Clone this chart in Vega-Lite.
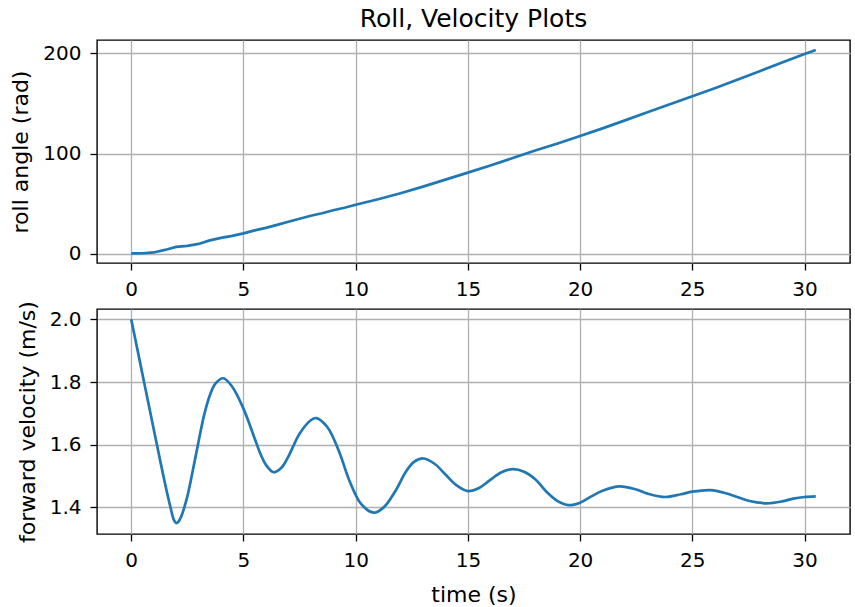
{
  "$schema": "https://vega.github.io/schema/vega-lite/v6.json",
  "background": "white",
  "padding": {"left": 9, "top": 6, "right": 2, "bottom": 0},
  "spacing": 46,
  "bounds": "flush",
  "config": {
    "font": "DejaVu Sans",
    "view": {"stroke": "black", "strokeWidth": 1.4},
    "axis": {
      "grid": true,
      "gridColor": "#b0b0b0",
      "gridWidth": 1.3,
      "domain": false,
      "tickColor": "black",
      "tickSize": 7,
      "tickWidth": 1.3,
      "labelFont": "DejaVu Sans",
      "labelFontSize": 20,
      "labelColor": "black",
      "labelPadding": 9,
      "titleFont": "DejaVu Sans",
      "titleFontSize": 22,
      "titleFontWeight": "normal",
      "titleColor": "black",
      "titlePadding": 10
    },
    "title": {"font": "DejaVu Sans", "fontSize": 25, "fontWeight": "normal", "color": "black"}
  },
  "vconcat": [
    {
      "title": {"text": "Roll, Velocity Plots", "anchor": "middle", "frame": "group", "offset": 8},
      "width": 753,
      "height": 223,
      "data": {"values": [
        {"t": 0, "roll": 0.5}, {"t": 0.5, "roll": 0.7}, {"t": 1, "roll": 1.5}, {"t": 1.5, "roll": 4},
        {"t": 2, "roll": 7}, {"t": 2.5, "roll": 8}, {"t": 3, "roll": 10}, {"t": 3.5, "roll": 13.5},
        {"t": 4, "roll": 16}, {"t": 4.5, "roll": 18}, {"t": 5, "roll": 20.5}, {"t": 5.5, "roll": 23.5},
        {"t": 6, "roll": 26}, {"t": 6.5, "roll": 29}, {"t": 7, "roll": 32}, {"t": 7.5, "roll": 35},
        {"t": 8, "roll": 38}, {"t": 8.5, "roll": 40.5}, {"t": 9, "roll": 43.5}, {"t": 9.5, "roll": 46},
        {"t": 10, "roll": 49}, {"t": 11, "roll": 54.5}, {"t": 12, "roll": 60.5}, {"t": 13, "roll": 67},
        {"t": 14, "roll": 74}, {"t": 15, "roll": 81}, {"t": 16, "roll": 88}, {"t": 17, "roll": 95.5},
        {"t": 18, "roll": 103}, {"t": 19, "roll": 110}, {"t": 20, "roll": 117.5}, {"t": 21, "roll": 125},
        {"t": 22, "roll": 133}, {"t": 23, "roll": 141}, {"t": 24, "roll": 149}, {"t": 25, "roll": 157},
        {"t": 26, "roll": 165}, {"t": 27, "roll": 173.5}, {"t": 28, "roll": 182}, {"t": 29, "roll": 190.5},
        {"t": 30, "roll": 199}, {"t": 30.5, "roll": 203}
      ]},
      "mark": {"type": "line", "color": "#1f77b4", "strokeWidth": 2.7},
      "encoding": {
        "x": {"field": "t", "type": "quantitative",
              "scale": {"domain": [-1.525, 32.025], "nice": false, "zero": false},
              "axis": {"title": null, "values": [0, 5, 10, 15, 20, 25, 30]}},
        "y": {"field": "roll", "type": "quantitative",
              "scale": {"domain": [-9, 213], "nice": false, "zero": false},
              "axis": {"title": "roll angle (rad)", "values": [0, 100, 200]}}
      }
    },
    {
      "width": 753,
      "height": 225,
      "data": {"values": [
        {"t": 0, "v": 2.0}, {"t": 0.25, "v": 1.913}, {"t": 0.5, "v": 1.825}, {"t": 0.75, "v": 1.738},
        {"t": 1.0, "v": 1.65}, {"t": 1.25, "v": 1.563}, {"t": 1.5, "v": 1.478}, {"t": 1.75, "v": 1.4},
        {"t": 1.9, "v": 1.36}, {"t": 2.0, "v": 1.35}, {"t": 2.1, "v": 1.354}, {"t": 2.25, "v": 1.375},
        {"t": 2.5, "v": 1.435}, {"t": 2.75, "v": 1.52},
        {"t": 3.0, "v": 1.61}, {"t": 3.25, "v": 1.695}, {"t": 3.5, "v": 1.757}, {"t": 3.75, "v": 1.795},
        {"t": 4.1, "v": 1.812}, {"t": 4.5, "v": 1.785}, {"t": 5.0, "v": 1.715}, {"t": 5.5, "v": 1.62},
        {"t": 5.75, "v": 1.572}, {"t": 6.0, "v": 1.536}, {"t": 6.35, "v": 1.512}, {"t": 6.7, "v": 1.527}, {"t": 7.0, "v": 1.562},
        {"t": 7.5, "v": 1.635}, {"t": 8.0, "v": 1.678}, {"t": 8.25, "v": 1.685}, {"t": 8.75, "v": 1.655},
        {"t": 9.25, "v": 1.58}, {"t": 9.75, "v": 1.48}, {"t": 10.25, "v": 1.41}, {"t": 10.8, "v": 1.383},
        {"t": 11.25, "v": 1.4}, {"t": 11.75, "v": 1.45}, {"t": 12.25, "v": 1.515}, {"t": 12.6, "v": 1.545},
        {"t": 13.0, "v": 1.556}, {"t": 13.5, "v": 1.54}, {"t": 14.0, "v": 1.505}, {"t": 14.5, "v": 1.47},
        {"t": 15.0, "v": 1.452}, {"t": 15.5, "v": 1.462}, {"t": 16.0, "v": 1.488}, {"t": 16.5, "v": 1.512},
        {"t": 17.0, "v": 1.522}, {"t": 17.5, "v": 1.514}, {"t": 18.0, "v": 1.49}, {"t": 18.5, "v": 1.45},
        {"t": 19.0, "v": 1.42}, {"t": 19.5, "v": 1.407}, {"t": 20.0, "v": 1.415}, {"t": 20.5, "v": 1.435},
        {"t": 21.0, "v": 1.453}, {"t": 21.75, "v": 1.467}, {"t": 22.5, "v": 1.457}, {"t": 23.0, "v": 1.444},
        {"t": 23.8, "v": 1.433}, {"t": 24.5, "v": 1.442}, {"t": 25.0, "v": 1.45}, {"t": 25.8, "v": 1.455},
        {"t": 26.5, "v": 1.445}, {"t": 27.0, "v": 1.433}, {"t": 27.5, "v": 1.421}, {"t": 28.3, "v": 1.413},
        {"t": 29.0, "v": 1.419}, {"t": 29.5, "v": 1.428}, {"t": 30.0, "v": 1.433}, {"t": 30.5, "v": 1.435}
      ]},
      "mark": {"type": "line", "color": "#1f77b4", "strokeWidth": 2.7, "interpolate": "catmull-rom"},
      "encoding": {
        "x": {"field": "t", "type": "quantitative",
              "scale": {"domain": [-1.525, 32.025], "nice": false, "zero": false},
              "axis": {"title": "time (s)", "titlePadding": 14, "values": [0, 5, 10, 15, 20, 25, 30]}},
        "y": {"field": "v", "type": "quantitative",
              "scale": {"domain": [1.315, 2.033], "nice": false, "zero": false},
              "axis": {"title": "forward velocity (m/s)", "values": [1.4, 1.6, 1.8, 2.0], "format": ".1f"}}
      }
    }
  ]
}
